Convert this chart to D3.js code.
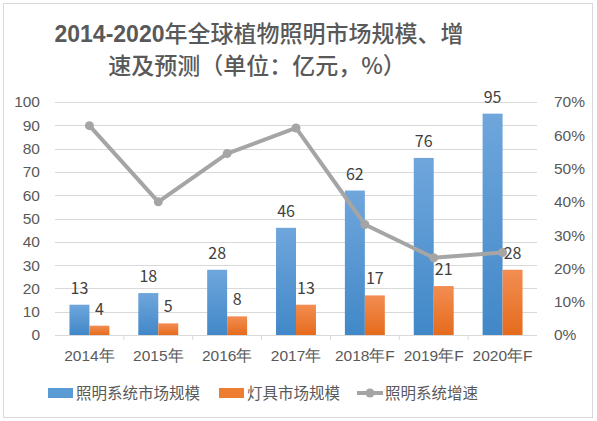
<!DOCTYPE html>
<html>
<head>
<meta charset="utf-8">
<script src="https://cdn.jsdelivr.net/npm/d3@7"></script>
<style>
  body { margin: 0; background: #fff; }
  svg { display: block; font-family: "Noto Sans CJK SC", "Noto Sans", sans-serif; }
</style>
</head>
<body>
<svg id="chart" width="597" height="421"></svg>
<script>
'use strict';

const categories = ['2014年', '2015年', '2016年', '2017年', '2018年F', '2019年F', '2020年F'];
const systemSize = [13, 18, 28, 46, 62, 76, 95];
const lampSize = [4, 5, 8, 13, 17, 21, 28];
const systemGrowth = [62.9, 40.0, 54.5, 62.2, 33.2, 23.2, 24.8];
const leftTicks = [0, 10, 20, 30, 40, 50, 60, 70, 80, 90, 100];
const rightTicks = [0, 10, 20, 30, 40, 50, 60, 70];
const seriesNames = ['照明系统市场规模', '灯具市场规模', '照明系统增速'];

const svg = d3.select('#chart');
const margin = {top: 102, right: 60, bottom: 86, left: 55};
const width = 597, height = 421;
const plotW = width - margin.left - margin.right;
const plotH = height - margin.top - margin.bottom;

const textColor = '#595959';
const blue = '#5b9bd5', orange = '#ed7d31', gray = '#a5a5a5';

// gradients for bars
const defs = svg.append('defs');
const grad = (id, top, bottom) => {
  const g = defs.append('linearGradient').attr('id', id)
    .attr('x1', 0).attr('y1', 0).attr('x2', 0).attr('y2', 1);
  g.append('stop').attr('offset', '0%').attr('stop-color', top);
  g.append('stop').attr('offset', '100%').attr('stop-color', bottom);
};
grad('gBlue', '#6fa6dc', '#4188c8');
grad('gOrange', '#f38d52', '#e56b1c');

// outer border
svg.append('rect')
  .attr('x', 3.5).attr('y', 3.5)
  .attr('width', width - 8).attr('height', height - 7)
  .attr('fill', 'none').attr('stroke', '#d9d9d9');

// title: digits bold, CJK medium
const title = svg.append('text')
  .attr('text-anchor', 'middle')
  .attr('fill', textColor).attr('font-size', 23).attr('font-weight', 500);
const line1 = title.append('tspan').attr('x', 259).attr('y', 42);
line1.append('tspan').attr('font-weight', 'bold').attr('font-family', 'Liberation Sans').text('2014-2020');
line1.append('tspan').text('年全球植物照明市场规模、增');
title.append('tspan').attr('x', 257).attr('y', 74).text('速及预测（单位：亿元，%）');

const g = svg.append('g').attr('transform', `translate(${margin.left},${margin.top})`);

const x = d3.scaleBand().domain(categories).range([0, plotW]).paddingInner(0.42).paddingOuter(0.21);
const xSub = d3.scaleBand().domain(['sys', 'lamp']).range([0, x.bandwidth()]);
const yL = d3.scaleLinear().domain([0, 100]).range([plotH, 0]);
const yR = d3.scaleLinear().domain([0, 70]).range([plotH, 0]);

// gridlines
g.append('g').selectAll('line').data(leftTicks.slice(1)).join('line')
  .attr('x1', 0).attr('x2', plotW)
  .attr('y1', d => Math.round(yL(d)) + 0.5).attr('y2', d => Math.round(yL(d)) + 0.5)
  .attr('stroke', '#d9d9d9');

// left axis
const axL = g.append('g').call(d3.axisLeft(yL).tickValues(leftTicks).tickSize(0).tickPadding(15));
axL.select('.domain').remove();
axL.selectAll('text').attr('fill', textColor).attr('font-size', 15.5);

// right axis
const axR = g.append('g').attr('transform', `translate(${plotW},0)`)
  .call(d3.axisRight(yR).tickValues(rightTicks).tickSize(0).tickPadding(17).tickFormat(d => d + '%'));
axR.select('.domain').remove();
axR.selectAll('text').attr('fill', textColor).attr('font-size', 15.5);

// baseline + ticks
g.append('line').attr('x1', 0).attr('x2', plotW).attr('y1', plotH + 0.5).attr('y2', plotH + 0.5)
  .attr('stroke', '#d9d9d9');
const axB = g.append('g').attr('transform', `translate(0,${plotH})`)
  .call(d3.axisBottom(x).tickSize(0).tickPadding(15));
axB.select('.domain').remove();
axB.selectAll('text').attr('fill', textColor).attr('font-size', 15.5);
g.append('g').selectAll('line').data(categories.slice(1)).join('line')
  .attr('x1', d => x(d) - x.step() * x.paddingInner() / 2)
  .attr('x2', d => x(d) - x.step() * x.paddingInner() / 2)
  .attr('y1', plotH).attr('y2', plotH + 5)
  .attr('stroke', '#d9d9d9');

// bars
const drawBars = (values, key, fill) => {
  g.append('g').selectAll('rect').data(values).join('rect')
    .attr('x', (d, i) => x(categories[i]) + xSub(key))
    .attr('y', d => yL(d))
    .attr('width', xSub.bandwidth())
    .attr('height', d => plotH - yL(d))
    .attr('fill', fill);
};
drawBars(systemSize, 'sys', 'url(#gBlue)');
drawBars(lampSize, 'lamp', 'url(#gOrange)');

// growth line
const line = d3.line().x((d, i) => x(categories[i]) + x.bandwidth() / 2).y(d => yR(d));
g.append('path').datum(systemGrowth)
  .attr('d', line).attr('fill', 'none')
  .attr('stroke', gray).attr('stroke-width', 4).attr('stroke-linejoin', 'round');
g.append('g').selectAll('circle').data(systemGrowth).join('circle')
  .attr('cx', (d, i) => x(categories[i]) + x.bandwidth() / 2)
  .attr('cy', d => yR(d)).attr('r', 4.5)
  .attr('fill', gray);

// data labels
const drawLabels = (values, key) => {
  g.append('g').selectAll('text').data(values).join('text')
    .attr('x', (d, i) => x(categories[i]) + xSub(key) + xSub.bandwidth() / 2)
    .attr('y', d => yL(d) - 11)
    .attr('text-anchor', 'middle')
    .attr('fill', '#404040').attr('font-size', 16)
    .text(d => d);
};
drawLabels(systemSize, 'sys');
drawLabels(lampSize, 'lamp');

// legend
const legend = svg.append('g').attr('transform', 'translate(0,393)');
const legendX = [48, 219, 357];
seriesNames.forEach((name, i) => {
  const item = legend.append('g').attr('transform', `translate(${legendX[i]},0)`);
  if (i < 2) {
    item.append('rect').attr('x', 0).attr('y', -5).attr('width', 25).attr('height', 10)
      .attr('fill', i === 0 ? blue : orange);
  } else {
    item.append('line').attr('x1', 0).attr('x2', 26).attr('y1', 0).attr('y2', 0)
      .attr('stroke', gray).attr('stroke-width', 4);
    item.append('circle').attr('cx', 13).attr('cy', 0).attr('r', 4.5).attr('fill', gray);
  }
  item.append('text').attr('x', 28).attr('y', 6)
    .attr('fill', textColor).attr('font-size', 15.5).text(name);
});
</script>
</body>
</html>
